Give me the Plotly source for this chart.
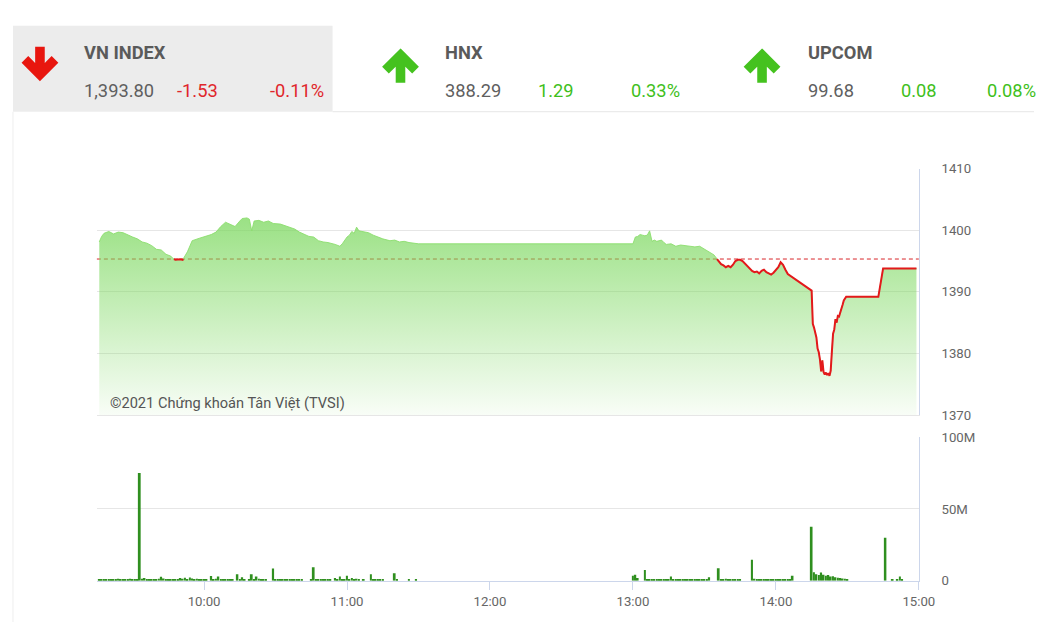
import pandas as pd
import plotly.graph_objects as go

W, H = 1050, 630
DAY = "2021-08-20 "

# ---------------- data ----------------
ref_close = 1395.33

price_times = [
    "09:16", "09:17", "09:18", "09:20", "09:22", "09:24", "09:26", "09:28", "09:30", "09:32",
    "09:34", "09:36", "09:38", "09:40", "09:42", "09:44", "09:46", "09:47", "09:48", "09:50",
    "09:51", "09:53", "09:54", "09:55", "09:58", "10:01", "10:03", "10:05", "10:07", "10:09",
    "10:11", "10:13", "10:15", "10:16", "10:18", "10:19", "10:20", "10:21", "10:23", "10:25",
    "10:27", "10:29", "10:32", "10:34", "10:36", "10:38", "10:40", "10:42", "10:44", "10:46",
    "10:48", "10:50", "10:52", "10:55", "10:57", "10:58", "11:00", "11:01", "11:02", "11:03",
    "11:04", "11:05", "11:07", "11:09", "11:11", "11:13", "11:15", "11:18", "11:20", "11:22",
    "11:24", "11:26", "11:28", "11:30",
    "13:00", "13:01", "13:02", "13:03", "13:04", "13:05", "13:06", "13:07", "13:08", "13:09",
    "13:10", "13:11", "13:12", "13:13", "13:14", "13:16", "13:18", "13:20", "13:22", "13:24",
    "13:26", "13:28", "13:30", "13:32", "13:34", "13:35", "13:36", "13:37", "13:38", "13:39",
    "13:40", "13:41", "13:42", "13:43", "13:44", "13:45", "13:46", "13:47", "13:48", "13:49",
    "13:50", "13:51", "13:52", "13:53", "13:54", "13:55", "13:56", "13:57", "13:58", "13:59",
    "14:00", "14:01", "14:02", "14:03", "14:04", "14:05",
    "14:15:00", "14:15:30", "14:16:00", "14:16:30", "14:17:00", "14:17:30", "14:18:00", "14:18:30",
    "14:19:00", "14:19:30", "14:20:00", "14:20:30", "14:21:00", "14:21:30", "14:22:00", "14:22:30",
    "14:23:00", "14:23:30", "14:24:00", "14:24:30", "14:25:00", "14:25:30", "14:26:00", "14:26:30",
    "14:27:00", "14:27:30", "14:28:00", "14:28:30", "14:29:00", "14:29:30", "14:30:00",
    "14:43", "14:45", "14:59",
]
price_values = [
    1398.1, 1399.0, 1399.5, 1399.8, 1399.4, 1399.7, 1399.6, 1399.2, 1398.9, 1398.6,
    1398.1, 1397.9, 1397.5, 1396.9, 1396.8, 1396.1, 1395.8, 1395.4, 1395.2, 1395.3,
    1395.2, 1396.5, 1397.3, 1398.3, 1398.7, 1399.0, 1399.3, 1399.7, 1400.6, 1401.3,
    1400.9, 1400.6, 1401.5, 1401.9, 1402.0, 1401.8, 1399.9, 1401.5, 1401.6, 1401.3,
    1401.5, 1401.1, 1401.0, 1400.7, 1400.5, 1400.2, 1399.7, 1399.4, 1399.0, 1398.9,
    1398.3, 1398.1, 1398.0, 1397.7, 1397.4, 1397.8, 1398.9, 1399.2, 1399.8, 1399.5,
    1400.5, 1399.9, 1399.8, 1399.6, 1399.2, 1398.9, 1398.6, 1398.3, 1398.4, 1398.1,
    1398.2, 1398.0, 1397.9, 1397.8,
    1397.8, 1398.9, 1399.0, 1399.3, 1399.2, 1399.1, 1399.2, 1399.9, 1398.2, 1398.4,
    1398.2, 1398.3, 1398.4, 1398.0, 1397.7, 1397.8, 1397.4, 1397.6, 1397.5, 1397.5,
    1397.3, 1397.4, 1396.9, 1396.5, 1396.0, 1395.5, 1394.9, 1394.5, 1394.3, 1394.0,
    1394.2, 1394.0, 1394.4, 1395.0, 1395.2, 1395.2, 1395.0, 1394.6, 1394.2, 1393.8,
    1393.4, 1393.2, 1393.3, 1393.0, 1393.4, 1393.6, 1393.2, 1393.0, 1392.8, 1393.1,
    1393.6, 1394.0, 1394.8, 1394.4, 1393.6, 1392.9,
    1390.2, 1384.8, 1384.2, 1383.4, 1382.6, 1380.8, 1380.2, 1379.0,
    1377.1, 1378.9, 1377.0, 1376.6, 1376.9, 1376.5, 1376.8, 1376.4,
    1377.2, 1380.3, 1383.2, 1383.9, 1385.6, 1385.0, 1386.1, 1386.0,
    1386.8, 1387.6, 1387.9, 1388.6, 1388.9, 1389.2, 1389.2,
    1389.2, 1393.8, 1393.8,
]

# volume, one value per minute (millions of shares)
vol_am_start = "09:15"
vol_am = [
    0, 1.2, 1.0, 1.3, 1.1, 0.9, 1.0, 0.8, 1.2, 1.5, 1.1, 1.0, 0.9, 1.2, 1.4, 1.0, 0.8, 1.1,
    75.0,
    1.5, 2.0, 1.2, 1.0, 1.3, 1.1, 1.0, 1.4, 2.8, 1.6, 1.2, 1.0, 1.1, 0.9, 1.3, 1.2, 1.9, 1.5,
    2.2, 1.3, 2.4, 1.6, 1.1, 1.4, 1.0, 0.9,
    0.8, 1.0, 0, 3.3, 1.2, 1.4, 3.0, 1.0, 1.1, 1.3, 0.9, 0.8, 1.0, 0, 4.6, 1.2, 2.5, 1.0, 0, 1.1,
    4.6, 1.3, 3.0, 1.5, 1.0, 0.9, 1.0, 0, 0, 8.5,
    1.0, 0.9, 1.1, 1.0, 0.8, 1.2, 1.0, 0.9, 1.1, 1.0, 0.9, 1.0, 0, 0, 0, 0.6,
    9.5,
    1.0, 0.8, 1.1, 0.9, 1.0, 0.8, 1.2, 0, 2.0, 0.9, 3.0, 1.0, 0.8,
    3.5, 1.2, 2.0, 1.0, 1.5, 0.9, 0, 0.8, 0, 0,
    4.6, 1.0, 0.9, 1.1, 1.0, 0.8, 0, 0, 0, 0, 5.3,
    1.0, 0, 0, 0, 0, 1.0, 0, 0, 1.0, 0,
]
vol_pm_start = "13:00"
vol_pm = [
    3.5, 4.2, 2.0, 0, 0, 7.6,
    1.0, 0.9, 1.1, 1.0, 0.8, 1.2, 1.0, 0.9, 1.1, 1.0,
    3.0,
    1.2, 1.0, 0.9, 1.1, 1.0, 0.8, 1.0, 0.9, 1.1, 1.0, 0.8, 1.0, 1.2, 0.9, 1.0,
    2.5, 0, 0, 0,
    8.8,
    1.2, 1.0, 1.4, 1.1, 0.9, 1.3, 1.0, 0.9, 1.0,
    0, 0, 0, 0,
    14.6,
    1.5, 1.2, 1.0, 1.1, 0.9, 1.0, 0.8, 1.0, 1.1, 0.9, 1.0, 0.8, 1.0, 0.9, 1.1, 1.0,
    3.5, 0, 0, 0, 0, 0, 0, 0,
    37.7,
    6.0, 4.5, 4.0, 5.8, 4.2, 3.5, 4.0, 3.0, 3.2, 2.5, 2.2, 2.0, 1.6, 1.4, 1.2,
    0, 0, 0, 0, 0, 0, 0, 0, 0, 0, 0, 0, 0, 0, 0,
    30.0,
    0, 0, 1.0, 0, 1.2, 3.0, 1.0,
]

price_ticks = [1370, 1380, 1390, 1400, 1410]
vol_ticks = [0, 50e6, 100e6]
vol_tick_text = ["0", "50M", "100M"]

indices = [
    # name, value, change, percent, up?
    ("VN INDEX", "1,393.80", "-1.53", "-0.11%", False),
    ("HNX", "388.29", "1.29", "0.33%", True),
    ("UPCOM", "99.68", "0.08", "0.08%", True),
]
watermark = "©2021 Chứng khoán Tân Việt (TVSI)"

# ---------------- build ----------------
ts = [pd.Timestamp(DAY + s) for s in price_times]
t_am = pd.Timestamp(DAY + vol_am_start)
t_pm = pd.Timestamp(DAY + vol_pm_start)
vx = [t_am + pd.Timedelta(minutes=i) for i in range(len(vol_am))] + \
     [t_pm + pd.Timedelta(minutes=i) for i in range(len(vol_pm))]
vy = [v * 1e6 for v in vol_am + vol_pm]

# red segments where price is below the reference close
rx, ry = [], []
for i in range(len(ts)):
    below = price_values[i] < ref_close
    if i > 0:
        pb = price_values[i - 1] < ref_close
        if below != pb:
            f = (ref_close - price_values[i - 1]) / (price_values[i] - price_values[i - 1])
            tc = ts[i - 1] + (ts[i] - ts[i - 1]) * f
            rx.append(tc)
            ry.append(ref_close)
            if not below:
                rx.append(None)
                ry.append(None)
    if below:
        rx.append(ts[i])
        ry.append(price_values[i])

fig = go.Figure()

fig.add_trace(go.Scatter(x=ts, y=[price_ticks[0]] * len(ts), mode="lines",
                         line=dict(width=0, color="rgba(0,0,0,0)"), hoverinfo="skip",
                         showlegend=False, xaxis="x", yaxis="y"))
fig.add_trace(go.Scatter(
    x=ts, y=price_values, mode="lines", fill="tonexty",
    line=dict(color="rgba(140,222,110,0.9)", width=1),
    fillgradient=dict(type="vertical",
                      colorscale=[[0, "rgba(120,215,90,0.03)"], [1, "rgba(120,215,90,0.74)"]],
                      start=1370, stop=1402),
    showlegend=False, xaxis="x", yaxis="y"))
fig.add_trace(go.Scatter(x=rx, y=ry, mode="lines", line=dict(color="#e3191b", width=2),
                         connectgaps=False, showlegend=False, xaxis="x", yaxis="y"))

fig.add_trace(go.Bar(x=vx, y=vy, width=45000, marker=dict(color="#2f8f1f", line=dict(width=0)),
                     showlegend=False, xaxis="x2", yaxis="y2"))

# the page is photographed slightly scaled: map target pixel positions to paper fractions
SX, SY, OY = 0.986, 0.978, 6.1


def px(x):
    return x / (W * SX)


def py(y):
    return 1 - (y - OY) / (H * SY)


def fs(s):
    return round(s / SX, 1)


xr = [DAY + "09:15", DAY + "15:00"]
xdom = [px(97), px(920)]
tick_font = dict(family="Roboto", size=fs(13), color="#666666")

fig.update_layout(
    width=W, height=H, margin=dict(l=0, r=0, t=0, b=0),
    paper_bgcolor="white", plot_bgcolor="white",
    font=dict(family="Roboto"),
    showlegend=False,
    xaxis=dict(domain=xdom, anchor="y", type="date", range=xr, showticklabels=False,
               showgrid=False, zeroline=False, showline=True, linecolor="#e6e6e6", ticks=""),
    yaxis=dict(domain=[py(415), py(168)], anchor="x", range=[1370, 1410], side="right",
               tickvals=price_ticks, gridcolor="#e6e6e6", zeroline=False, showline=True,
               linecolor="#ccd6eb", ticks="", tickfont=tick_font, ticklabelstandoff=19),
    xaxis2=dict(domain=xdom, anchor="y2", type="date", range=xr, matches="x",
                tickformat="%H:%M", tick0=DAY + "10:00", dtick=3600000,
                ticks="outside", ticklen=8, tickcolor="#ccd6eb", showline=True,
                linecolor="#ccd6eb", showgrid=False, zeroline=False, tickfont=tick_font),
    yaxis2=dict(domain=[py(581), py(437)], anchor="x2", range=[0, 100e6], side="right",
                tickvals=vol_ticks, ticktext=vol_tick_text, gridcolor="#e6e6e6",
                zeroline=False, showline=True, linecolor="#ccd6eb", ticks="",
                tickfont=tick_font, ticklabelstandoff=19),
)

shapes = []
# header box and separators
shapes.append(dict(type="rect", xref="paper", yref="paper", x0=px(13), x1=px(333),
                   y0=py(111), y1=py(25), fillcolor="#ececec", line=dict(width=0), layer="below"))
shapes.append(dict(type="line", xref="paper", yref="paper", x0=px(333), x1=1,
                   y0=py(111), y1=py(111), line=dict(color="#e6e6e6", width=1)))
shapes.append(dict(type="line", xref="paper", yref="paper", x0=px(13), x1=px(13),
                   y0=py(111), y1=0, line=dict(color="#eeeeee", width=1)))
# reference close
shapes.append(dict(type="line", xref="paper", yref="y", x0=px(97), x1=px(920),
                   y0=ref_close, y1=ref_close, layer="between",
                   line=dict(color="#d8262a", width=1, dash="4px,3px")))


def arrow_path(cx, tip_y, stem_y, a=17, s=3.8, t=7.5):
    d = 1 if stem_y > tip_y else -1
    r2t = 1.4142 * t
    ang = t / 1.4142
    pts = [
        (cx, tip_y),
        (cx + a, tip_y + d * a),
        (cx + a - ang, tip_y + d * (a + ang)),
        (cx + s, tip_y + d * (r2t + s)),
        (cx + s, stem_y),
        (cx - s, stem_y),
        (cx - s, tip_y + d * (r2t + s)),
        (cx - a + ang, tip_y + d * (a + ang)),
        (cx - a, tip_y + d * a),
    ]
    return "M " + " L ".join(f"{px(x):.5f},{py(y):.5f}" for x, y in pts) + " Z"


annotations = []
col_x = [82, 444, 807]
arrow_x = [40, 401, 763]
for (name, val, chg, pct, up), x0, ax in zip(indices, col_x, arrow_x):
    col = "#45c21f" if up else "#e8160f"
    tcol = "#3fbf1c" if up else "#e0262b"
    if up:
        path = arrow_path(ax, 49, 81)
    else:
        path = arrow_path(ax, 79, 47)
    shapes.append(dict(type="path", xref="paper", yref="paper", path=path,
                       fillcolor=col, line=dict(color=col, width=2)))
    annotations.append(dict(text=f"<b>{name}</b>", x=px(x0), y=py(52), xref="paper", yref="paper",
                            xanchor="left", yanchor="middle", showarrow=False,
                            font=dict(family="Roboto", size=fs(18), color="#5a5a5a")))
    annotations.append(dict(text=val, x=px(x0), y=py(90), xref="paper", yref="paper",
                            xanchor="left", yanchor="middle", showarrow=False,
                            font=dict(family="Roboto", size=fs(18), color="#5f5f5f")))
    annotations.append(dict(text=chg, x=px(x0 + 93), y=py(90), xref="paper", yref="paper",
                            xanchor="left", yanchor="middle", showarrow=False,
                            font=dict(family="Roboto", size=fs(18), color=tcol)))
    annotations.append(dict(text=pct, x=min(px(x0 + 186), px(986)), y=py(90), xref="paper", yref="paper",
                            xanchor="left", yanchor="middle", showarrow=False,
                            font=dict(family="Roboto", size=fs(18), color=tcol)))

annotations.append(dict(text=watermark, x=px(108), y=py(403), xref="paper", yref="paper",
                        xanchor="left", yanchor="middle", showarrow=False,
                        font=dict(family="Roboto", size=fs(14.4), color="#555555")))

fig.update_layout(shapes=shapes, annotations=annotations)

fig.write_html("out.html")
